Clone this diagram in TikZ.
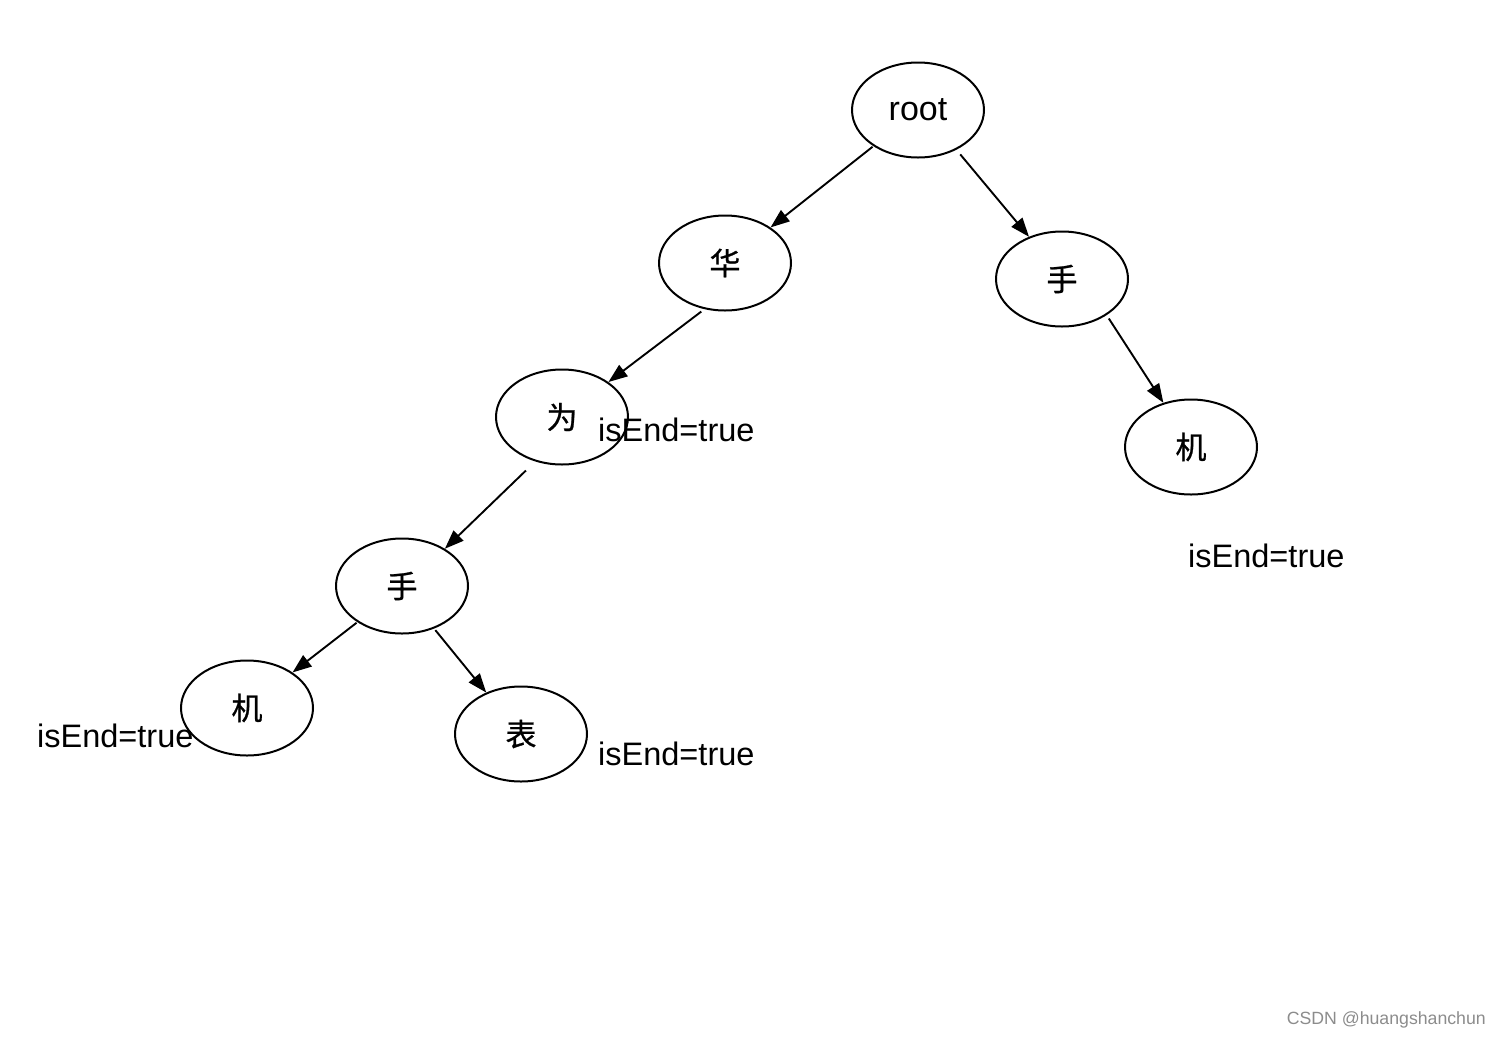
\documentclass[tikz,border=0pt]{standalone}
\usepackage{fontspec}
\setmainfont{Liberation Sans}
\newfontfamily\cjk[FakeBold=0.8]{Noto Sans CJK SC}
\usetikzlibrary{arrows.meta,shapes.geometric}
\begin{document}
\begin{tikzpicture}[x=1pt,y=-1pt,
  tnode/.style={ellipse,draw,line width=2pt,minimum width=132pt,minimum height=95pt,inner sep=0pt,font=\cjk\fontsize{31}{36}\selectfont},
  edge/.style={line width=1.9pt,-{Triangle[length=19pt,width=14pt]}},
  endlbl/.style={inner sep=0pt,anchor=base west,font=\fontsize{32.5}{38}\selectfont}]
\useasboundingbox (0,0) rectangle (1500,1037);
\node[tnode,font=\fontsize{34}{40}\selectfont] (root) at (918,110) {root};
\node[tnode] (hua) at (725,263) {华};
\node[tnode] (shouR) at (1062,279) {手};
\node[tnode] (wei) at (562,417) {为};
\node[tnode] (jiR) at (1191,447) {机};
\node[tnode] (shouL) at (402,586) {手};
\node[tnode] (jiL) at (247,708) {机};
\node[tnode] (biao) at (521,734) {表};
\draw[edge,shorten <=1pt] (root.219) -- (hua.38);
\draw[edge,shorten <=6pt] (root.314) -- (shouR.128);
\draw[edge,shorten <=4pt] (hua.246) -- (wei.37);
\draw[edge,shorten <=4pt] (shouR.321) -- (jiR.122);
\draw[edge,shorten <=13pt] (wei.239) -- (shouL.41);
\draw[edge,shorten <=1pt] (shouL.219) -- (jiL.38);
\draw[edge,shorten <=2pt] (shouL.307) -- (biao.130);
\node[endlbl] (e1) at (598,441) {isEnd=true};
\node[endlbl] (e2) at (1188,567) {isEnd=true};
\node[endlbl] (e3) at (37,747) {isEnd=true};
\node[endlbl] (e4) at (598,765) {isEnd=true};
\node[inner sep=0pt,anchor=base east,text=black!45,font=\fontsize{17.7}{21}\selectfont] (wm) at (1486,1024) {CSDN @huangshanchun};
\end{tikzpicture}
\end{document}
